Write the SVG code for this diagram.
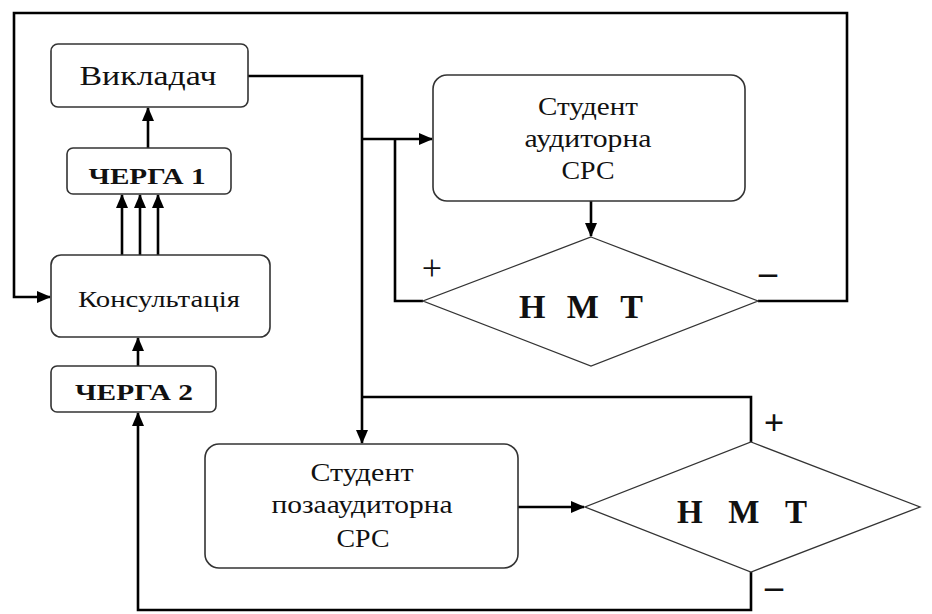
<svg xmlns="http://www.w3.org/2000/svg" width="932" height="614" viewBox="0 0 932 614">
<style>
.box{fill:#fff;stroke:#333;stroke-width:1.6}
.dia{fill:#fff;stroke:#333;stroke-width:1.3}
.con{fill:none;stroke:#000;stroke-width:2.6}
.t{font-family:'Liberation Serif','DejaVu Serif',serif;fill:#111;text-anchor:middle}
.b{font-weight:bold}
.s{font-size:36px}
</style>
<defs>
<marker id="ah" markerUnits="userSpaceOnUse" markerWidth="14" markerHeight="12" refX="13" refY="6" orient="auto">
<path d="M0,0 L14,6 L0,12 Z" fill="#000"/>
</marker>
</defs>
<rect width="932" height="614" fill="#fff"/>
<g id="connectors">
<path class="con" d="M758 301 H847 V13 H14 V297 H50" marker-end="url(#ah)"/>
<path class="con" d="M248 76 H362 V443" marker-end="url(#ah)"/>
<path class="con" d="M362 139 H432" marker-end="url(#ah)"/>
<path class="con" d="M423 301 H395 V139"/>
<path class="con" d="M591 201 V236" marker-end="url(#ah)"/>
<path class="con" d="M148 148 V108" marker-end="url(#ah)"/>
<path class="con" d="M122 255 V195" marker-end="url(#ah)"/>
<path class="con" d="M140 255 V195" marker-end="url(#ah)"/>
<path class="con" d="M158 255 V195" marker-end="url(#ah)"/>
<path class="con" d="M138 366 V338" marker-end="url(#ah)"/>
<path class="con" d="M751 572 V610 H138 V413" marker-end="url(#ah)"/>
<path class="con" d="M751 442 V397 H362"/>
<path class="con" d="M518 507 H584" marker-end="url(#ah)"/>
</g>
<g id="vykladach">
<rect class="box" x="51" y="44" width="197" height="63" rx="7"/>
<text class="t" x="148" y="85" font-family="Liberation Serif, serif" font-size="27" textLength="137" lengthAdjust="spacingAndGlyphs">Викладач</text>
</g>
<g id="cherga1">
<rect class="box" x="67" y="148" width="164" height="46" rx="6"/>
<text class="t b" x="147" y="184" font-family="Liberation Serif, serif" font-size="23" textLength="117" lengthAdjust="spacingAndGlyphs">ЧЕРГА 1</text>
</g>
<g id="konsultatsiya">
<rect class="box" x="51" y="255" width="219" height="82" rx="10"/>
<text class="t" x="159" y="307" font-family="Liberation Serif, serif" font-size="24" textLength="162" lengthAdjust="spacingAndGlyphs">Консультація</text>
</g>
<g id="cherga2">
<rect class="box" x="51" y="366" width="165" height="46" rx="6"/>
<text class="t b" x="134" y="400" font-family="Liberation Serif, serif" font-size="23" textLength="118" lengthAdjust="spacingAndGlyphs">ЧЕРГА 2</text>
</g>
<g id="student-aud">
<rect class="box" x="433" y="75" width="312" height="126" rx="14"/>
<text class="t" x="588" y="115" font-family="Liberation Serif, serif" font-size="26" textLength="100" lengthAdjust="spacingAndGlyphs">Студент</text>
<text class="t" x="588" y="147" font-family="Liberation Serif, serif" font-size="26" textLength="127" lengthAdjust="spacingAndGlyphs">аудиторна</text>
<text class="t" x="588" y="179" font-family="Liberation Serif, serif" font-size="26" textLength="53" lengthAdjust="spacingAndGlyphs">СРС</text>
</g>
<g id="nmt1">
<polygon class="dia" points="591,237 758,301 591,366 423,301"/>
<text class="t b" x="581" y="318" font-family="Liberation Serif, serif" font-size="34" textLength="124" lengthAdjust="spacing">Н М Т</text>
<text class="t s" x="432" y="280" font-family="Liberation Serif, serif">+</text>
<text class="t s b" x="768" y="284" font-family="Liberation Serif, serif">–</text>
</g>
<g id="student-poza">
<rect class="box" x="205" y="444" width="313" height="124" rx="14"/>
<text class="t" x="362" y="481" font-family="Liberation Serif, serif" font-size="26" textLength="103" lengthAdjust="spacingAndGlyphs">Студент</text>
<text class="t" x="362" y="513" font-family="Liberation Serif, serif" font-size="26" textLength="181" lengthAdjust="spacingAndGlyphs">позааудиторна</text>
<text class="t" x="363" y="547" font-family="Liberation Serif, serif" font-size="26" textLength="53" lengthAdjust="spacingAndGlyphs">СРС</text>
</g>
<g id="nmt2">
<polygon class="dia" points="751,442 920,507 751,572 585,507"/>
<text class="t b" x="742" y="523" font-family="Liberation Serif, serif" font-size="33" textLength="130" lengthAdjust="spacing">Н М Т</text>
<text class="t s b" x="774" y="435" font-family="Liberation Serif, serif">+</text>
<text class="t s b" x="774" y="598" font-family="Liberation Serif, serif">–</text>
</g>
</svg>
